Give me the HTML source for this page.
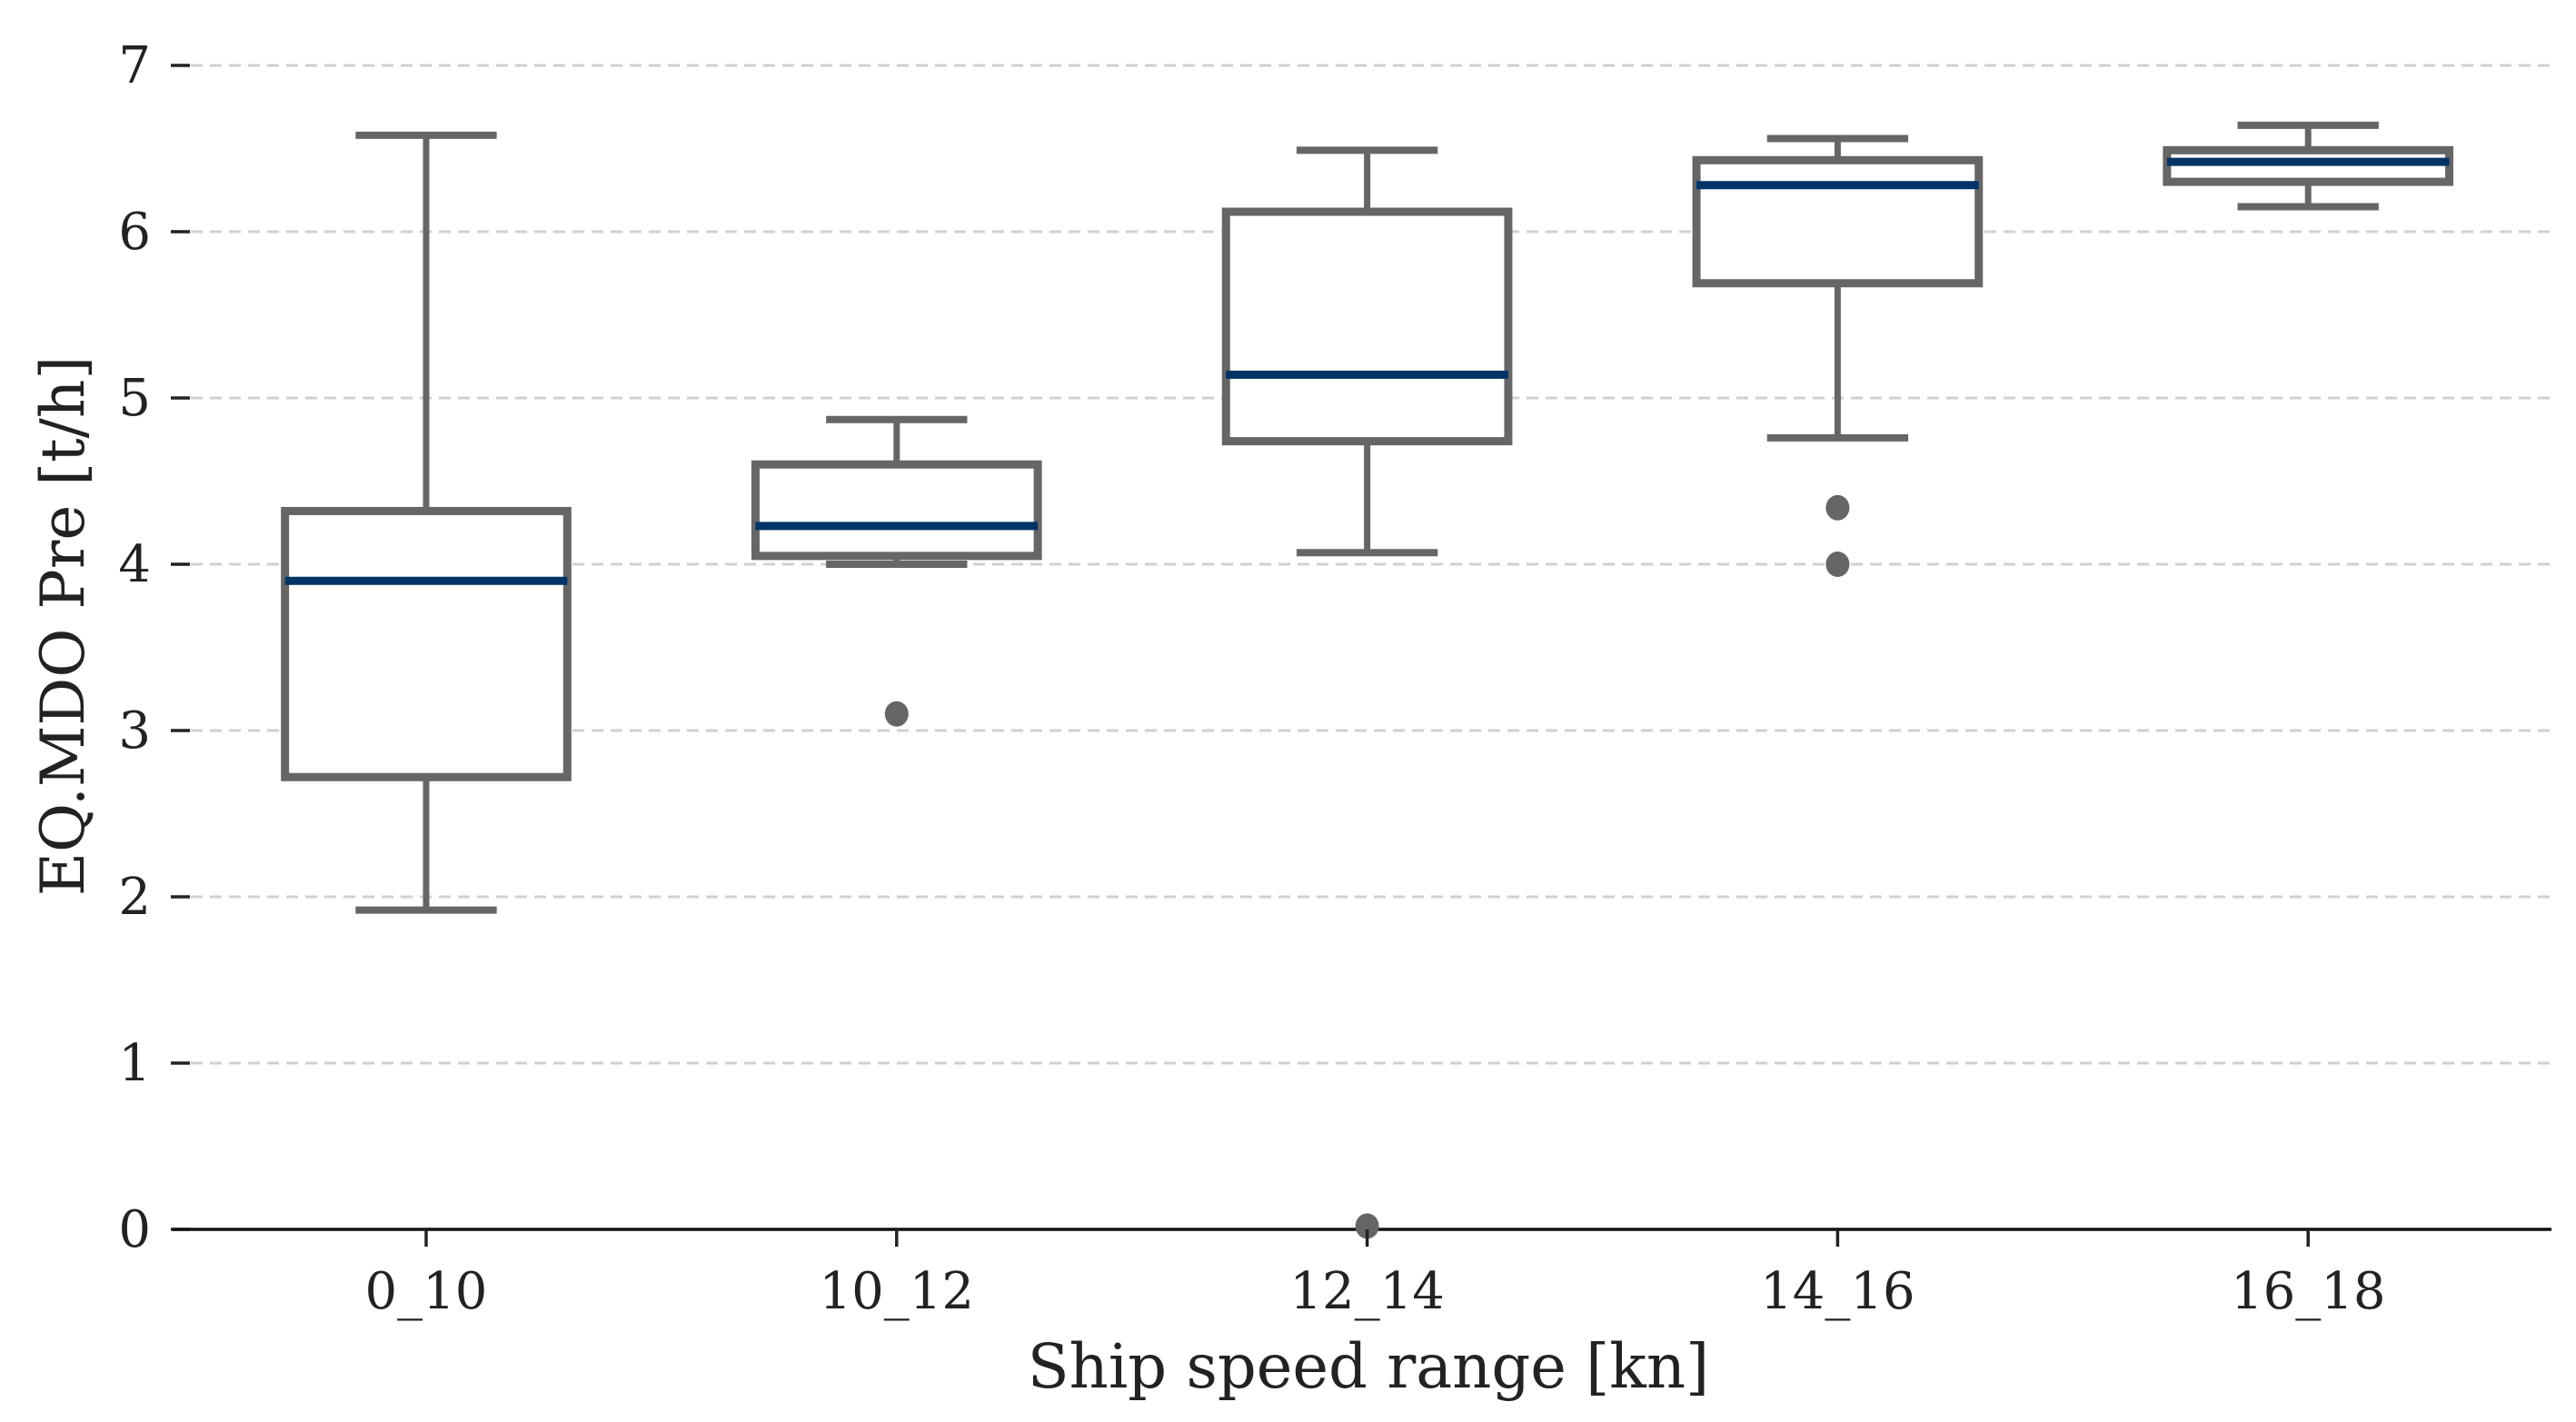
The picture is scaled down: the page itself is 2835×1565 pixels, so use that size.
<!DOCTYPE html>
<html><head><meta charset="utf-8"><style>
html,body{margin:0;padding:0;background:#fff;}
svg{display:block;font-family:"DejaVu Serif","Liberation Serif",serif;}
</style></head><body>
<svg id="chart" width="2835" height="1565" viewBox="0 0 2835 1565"></svg>
<script>
const categories=["0_10","10_12","12_14","14_16","16_18"];
const whiskerLow=[1.92,4.0,4.07,4.76,6.15];
const q1=[2.72,4.05,4.74,5.69,6.30];
const medians=[3.90,4.23,5.14,6.28,6.42];
const q3=[4.32,4.60,6.12,6.43,6.49];
const whiskerHigh=[6.58,4.87,6.49,6.56,6.64];
const outliers=[[],[3.1],[0.02],[4.34,4.0],[]];
const yTicks=[0,1,2,3,4,5,6,7];

const NS="http://www.w3.org/2000/svg";
const svg=document.getElementById('chart');
const X0=190,X1=2808,Y0=1353,Y7=72;
const step=517.8,first=469;
function xs(i){return first+i*step;}
function ys(v){return Y0-(v/7)*(Y0-Y7);}
function mk(tag,attrs,parent){const e=document.createElementNS(NS,tag);for(const k in attrs)e.setAttribute(k,attrs[k]);(parent||svg).appendChild(e);return e;}

yTicks.forEach(t=>{
  const y=ys(t);
  if(t>0){
    const g=mk('line',{x1:210,x2:X1,y1:y,y2:y,stroke:'#d0d0d0','stroke-width':3,'stroke-dasharray':'13 8'});
    
    
  }
  const tk=mk('line',{x1:188,x2:209,y1:y,y2:y,stroke:'#222','stroke-width':3.5});
  
  
  const lb=mk('text',{x:166,y:y+19,'text-anchor':'end','font-size':56,fill:'#222'});
  lb.textContent=t;
  
  
});
const ax=mk('line',{x1:X0,x2:X1,y1:Y0,y2:Y0,stroke:'#111','stroke-width':3.5});



const gray='#666666',navy='#003366';
const bw=step*0.6,cw=step*0.3;
categories.forEach((c,i)=>{
  const x=xs(i);
  const g=mk('g',{});
  
  
  mk('line',{x1:x,x2:x,y1:ys(q3[i]),y2:ys(whiskerHigh[i]),stroke:gray,'stroke-width':7},g);
  mk('line',{x1:x,x2:x,y1:ys(q1[i]),y2:ys(whiskerLow[i]),stroke:gray,'stroke-width':7},g);
  mk('line',{x1:x-cw/2,x2:x+cw/2,y1:ys(whiskerHigh[i]),y2:ys(whiskerHigh[i]),stroke:gray,'stroke-width':8},g);
  mk('line',{x1:x-cw/2,x2:x+cw/2,y1:ys(whiskerLow[i]),y2:ys(whiskerLow[i]),stroke:gray,'stroke-width':8},g);
  mk('rect',{x:x-bw/2,y:ys(q3[i]),width:bw,height:ys(q1[i])-ys(q3[i]),fill:'#fff',stroke:gray,'stroke-width':9},g);
  const m=mk('line',{x1:x-bw/2,x2:x+bw/2,y1:ys(medians[i]),y2:ys(medians[i]),stroke:navy,'stroke-width':9},g);
  
  
  outliers[i].forEach(v=>{
    const o=mk('ellipse',{cx:x,cy:ys(v),rx:13,ry:14,fill:gray},g);
    
    
  });
  const tk=mk('line',{x1:x,x2:x,y1:Y0,y2:Y0+19,stroke:'#222','stroke-width':3.5});
  
  
  const lb=mk('text',{x:x,y:1440,'text-anchor':'middle','font-size':56,fill:'#222'});
  lb.textContent=c;
  
  
});
const xt=mk('text',{x:1506,y:1527,'text-anchor':'middle','font-size':67,fill:'#222'});
xt.textContent='Ship speed range [kn]';


const yt=mk('text',{x:0,y:0,'text-anchor':'middle','font-size':66,fill:'#222',transform:'translate(92,689) rotate(-90)'});
yt.textContent='EQ.MDO Pre [t/h]';


</script>
</body></html>
